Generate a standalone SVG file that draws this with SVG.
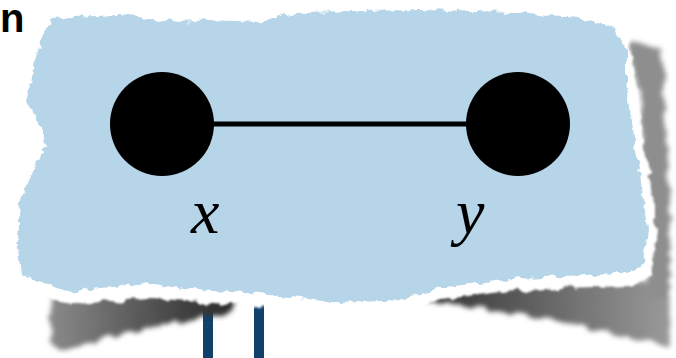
<svg xmlns="http://www.w3.org/2000/svg" width="676" height="358" viewBox="0 0 676 358">
  <style>
    .node { fill: #000000; }
    .edge { stroke: #000000; stroke-width: 5; fill: none; }
    .lbl { font-family: "Liberation Serif", "Times New Roman", serif; font-style: italic; font-size: 64px; fill: #000000; }
    .post { fill: #11406c; }
  </style>
  <defs>
    <filter id="torn" x="-10%" y="-10%" width="120%" height="120%">
      <feTurbulence type="fractalNoise" baseFrequency="0.09" numOctaves="3" seed="4" result="n"/>
      <feDisplacementMap in="SourceGraphic" in2="n" scale="9" xChannelSelector="R" yChannelSelector="G"/>
    </filter>
    <filter id="tornSoft" x="-10%" y="-10%" width="120%" height="120%">
      <feTurbulence type="fractalNoise" baseFrequency="0.08" numOctaves="3" seed="7" result="n"/>
      <feDisplacementMap in="SourceGraphic" in2="n" scale="10" xChannelSelector="R" yChannelSelector="G" result="d"/>
      <feGaussianBlur in="d" stdDeviation="1.2"/>
    </filter>
    <filter id="shadow" x="-10%" y="-20%" width="120%" height="140%">
      <feTurbulence type="fractalNoise" baseFrequency="0.07" numOctaves="3" seed="2" result="n"/>
      <feDisplacementMap in="SourceGraphic" in2="n" scale="10" xChannelSelector="R" yChannelSelector="G" result="d"/>
      <feGaussianBlur in="d" stdDeviation="2.5"/>
    </filter>
    <linearGradient id="shL" x1="0" y1="0" x2="1" y2="0">
      <stop offset="0" stop-color="#8a8a8a"/>
      <stop offset="0.8" stop-color="#3a3a3a"/>
      <stop offset="1" stop-color="#2a2a2a"/>
    </linearGradient>
    <linearGradient id="shR" x1="0" y1="0" x2="1" y2="0">
      <stop offset="0" stop-color="#2e2e2e"/>
      <stop offset="0.5" stop-color="#666666"/>
      <stop offset="1" stop-color="#9a9a9a"/>
    </linearGradient>
  </defs>

  <rect width="676" height="358" fill="#ffffff"/>

  <text x="0" y="32" font-family="Liberation Sans, Arial, sans-serif" font-weight="bold" font-size="40" fill="#000000">n</text>

  <g id="posts">
    <rect class="post" x="203" y="290" width="10" height="68"/>
    <rect class="post" x="254" y="290" width="10" height="68"/>
  </g>

  <g id="paper-shadow" filter="url(#shadow)">
    <polygon fill="url(#shL)" points="52,290 120,292 200,292 235,296 232,312 200,318 150,328 100,340 62,352 50,345"/>
    <polygon fill="url(#shR)" points="420,292 500,285 580,282 640,280 668,282 670,345 652,342 600,330 540,318 470,306 425,302"/>
    <polygon fill="#8e8e8e" points="628,42 660,48 664,90 668,160 670,230 670,300 648,298 646,230 642,150 640,90"/>
  </g>

  <g id="paper">
    <polygon fill="#ffffff" filter="url(#tornSoft)" points="40,8 120,6 200,12 260,10 330,4 420,2 520,4 600,10 628,30 634,70 645,150 654,200 656,230 652,275 630,286 560,288 500,292 440,300 400,312 340,316 300,310 260,306 200,302 150,298 100,302 70,305 36,294 10,286 8,240 13,200 25,150 34,132 18,100 28,60 35,25"/>
    <polygon fill="#b7d5e9" filter="url(#torn)" points="50,18 120,15 180,22 210,20 260,22 300,12 420,10 520,12 580,18 615,28 626,50 626,80 636,150 644,200 647,232 642,268 620,274 560,276 500,280 440,288 400,300 340,303 300,298 260,294 200,290 150,284 100,288 68,292 40,282 22,275 18,240 20,200 45,146 44,136 28,100 35,60 45,30"/>
  </g>

  <g id="connectors">
    <line class="edge" x1="162" y1="124" x2="518" y2="124"/>
  </g>

  <g id="node-x">
    <circle class="node" cx="162" cy="124" r="52"/>
    <text class="lbl" x="191" y="233">x</text>
  </g>
  <g id="node-y">
    <circle class="node" cx="518" cy="124" r="52"/>
    <text class="lbl" x="456" y="233">y</text>
  </g>
</svg>
